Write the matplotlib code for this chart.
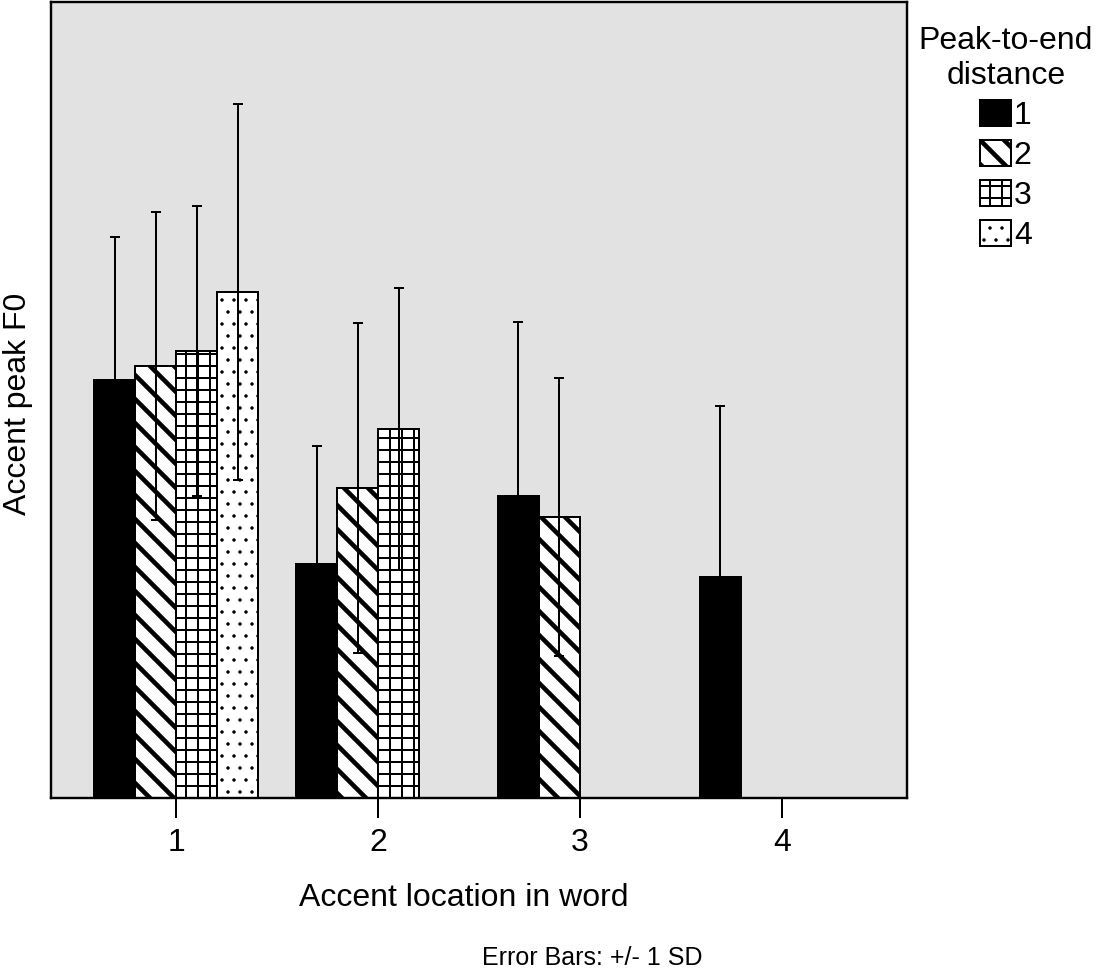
import numpy as np
import matplotlib
matplotlib.use("Agg")
import matplotlib.pyplot as plt

plt.rcParams['font.family'] = ['Liberation Sans', 'DejaVu Sans']

##########
## Data ##
##########
# accent location in word (x groups), peak-to-end distance (series)
locations = [1, 2, 3, 4]
distances = ['1', '2', '3', '4']

# mean accent peak F0 per (distance, location); None = no bar
means = {
    '1': [418, 234, 302, 221],
    '2': [432, 310, 281, None],
    '3': [447, 369, None, None],
    '4': [506, None, None, None],
}
# +/- 1 SD
sds = {
    '1': [143, 118, 174, 171],
    '2': [154, 165, 139, None],
    '3': [145, 141, None, None],
    '4': [188, None, None, None],
}

# fill style per series: facecolor, hatch, hatch linewidth
styles = {
    '1': ('black', '', 1.0),
    '2': ('white', '\\\\', 2.3),
    '3': ('white', '++', 1.0),
    '4': ('white', '..', 0.5),
}

##############
## Plotting ##
##############
DPI = 144
fig = plt.figure(figsize=(1099 / DPI, 976 / DPI), dpi=DPI)
ax = fig.add_axes([51 / 1099, 178 / 976, 856 / 1099, 796 / 976])
ax.set_facecolor('#e2e2e2')

width = 0.203
handles = []
for i, d in enumerate(distances):
    fc, hatch, hlw = styles[d]
    xs = [loc + (i - 1.5) * width for loc, m in zip(locations, means[d]) if m is not None]
    ys = [m for m in means[d] if m is not None]
    es = [s for s in sds[d] if s is not None]
    with plt.rc_context({'hatch.linewidth': hlw}):
        bars = ax.bar(xs, ys, width=width, facecolor=fc, edgecolor='black',
                      linewidth=1.0, hatch=hatch, zorder=2, label=d)
    for p in bars:
        if hasattr(p, 'set_hatch_linewidth'):
            p.set_hatch_linewidth(hlw)
    ax.errorbar(xs, ys, yerr=es, fmt='none', ecolor='black',
                elinewidth=1.0, capsize=2.6, capthick=1.0, zorder=3)
    handles.append(bars)

ax.set_xlim(0.381, 4.619)
ax.set_ylim(0, 796)
ax.set_xticks(locations)
ax.set_xticklabels([str(l) for l in locations], fontsize=16)
ax.set_yticks([])
ax.tick_params(axis='x', direction='out', length=10, width=1.0, pad=5)
for s in ax.spines.values():
    s.set_linewidth(1.2)

fig.text(464 / 1099, 1 - 898 / 976, 'Accent location in word', fontsize=16,
         ha='center', va='center')
fig.text(18 / 1099, 1 - 404 / 976, 'Accent peak F0', fontsize=16,
         rotation=90, ha='center', va='center')
fig.text(592 / 1099, 1 - 958 / 976, 'Error Bars: +/- 1 SD', fontsize=12.5,
         ha='center', va='center')

leg = fig.legend(handles, distances, title='Peak-to-end\ndistance',
                 loc='upper center', bbox_to_anchor=(1006 / 1099, 1 - 10 / 976),
                 frameon=False, fontsize=16, title_fontsize=16,
                 handlelength=0.95, handleheight=0.88, labelspacing=0.28,
                 handletextpad=0.1, borderpad=0, alignment='center')
leg.get_title().set_multialignment('center')
for p, d in zip(leg.get_patches(), distances):
    if hasattr(p, 'set_hatch_linewidth'):
        p.set_hatch_linewidth(styles[d][2])

fig.savefig('out.png', dpi=DPI)
